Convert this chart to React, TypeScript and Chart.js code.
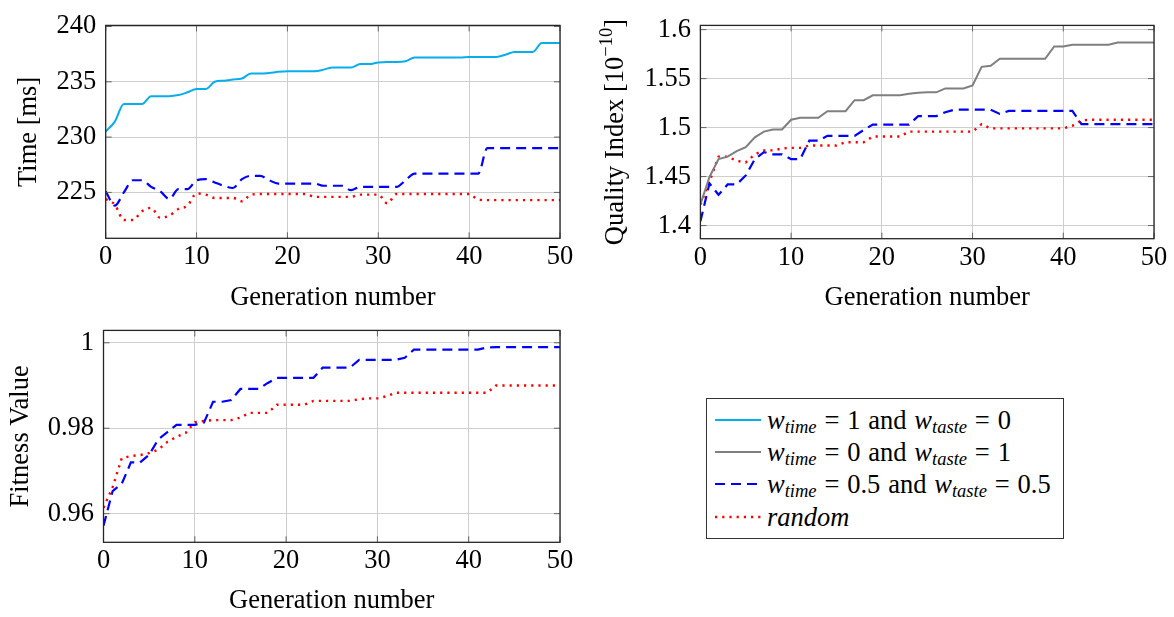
import React, { useEffect, useRef } from 'react';
import { Chart, registerables } from 'chart.js';

Chart.register(...registerables);

// ---------------- data ----------------
const GEN = [0, 1, 2, 3, 4, 5, 6, 7, 8, 9, 10, 11, 12, 13, 14, 15, 16, 17, 18, 19, 20, 21, 22, 23, 24, 25, 26, 27, 28, 29, 30, 31, 32, 33, 34, 35, 36, 37, 38, 39, 40, 41, 42, 43, 44, 45, 46, 47, 48, 49, 50];

// Time [ms]
const TIME_W1 = [230.5, 231.4, 233.0, 233.0, 233.0, 233.7, 233.7, 233.7, 233.8, 234.05, 234.35, 234.35, 235.0, 235.1, 235.2, 235.3, 235.75, 235.75, 235.8, 235.9, 235.95, 235.95, 235.95, 235.95, 236.1, 236.3, 236.3, 236.3, 236.6, 236.6, 236.75, 236.8, 236.8, 236.85, 237.2, 237.2, 237.2, 237.2, 237.2, 237.2, 237.25, 237.25, 237.25, 237.25, 237.45, 237.7, 237.7, 237.7, 238.5, 238.5, 238.5];
const TIME_W05 = [225.1, 223.8, 225.0, 226.1, 226.1, 225.5, 225.1, 224.4, 225.3, 225.3, 226.1, 226.2, 225.9, 225.6, 225.4, 226.2, 226.5, 226.5, 226.1, 225.8, 225.8, 225.8, 225.8, 225.8, 225.6, 225.6, 225.6, 225.2, 225.5, 225.5, 225.5, 225.5, 225.5, 226.1, 226.7, 226.7, 226.7, 226.7, 226.7, 226.7, 226.7, 226.7, 229.0, 229.0, 229.0, 229.0, 229.0, 229.0, 229.0, 229.0, 229.0];
const TIME_RAND = [224.4, 223.9, 222.5, 222.5, 223.3, 223.6, 222.7, 222.9, 223.5, 223.8, 224.9, 224.8, 224.5, 224.5, 224.5, 224.2, 224.8, 224.85, 224.85, 224.85, 224.85, 224.85, 224.85, 224.6, 224.6, 224.6, 224.6, 224.6, 224.8, 224.8, 224.8, 224.0, 224.85, 224.85, 224.85, 224.85, 224.85, 224.85, 224.85, 224.85, 224.85, 224.35, 224.3, 224.3, 224.3, 224.3, 224.3, 224.3, 224.3, 224.3, 224.3];

// Quality Index [10^-10]
const QUALITY_W0 = [1.4215, 1.4496, 1.4678, 1.4704, 1.476, 1.48, 1.49, 1.4959, 1.498, 1.498, 1.508, 1.51, 1.51, 1.51, 1.5167, 1.5167, 1.5167, 1.528, 1.528, 1.533, 1.533, 1.533, 1.533, 1.5345, 1.5355, 1.536, 1.536, 1.54, 1.54, 1.54, 1.543, 1.562, 1.563, 1.5702, 1.5702, 1.5702, 1.5702, 1.5702, 1.5702, 1.5828, 1.5828, 1.5845, 1.5845, 1.5845, 1.5845, 1.5845, 1.5868, 1.5868, 1.5868, 1.5868, 1.5868];
const QUALITY_W05 = [1.4043, 1.443, 1.4314, 1.442, 1.442, 1.4512, 1.4678, 1.475, 1.4727, 1.4727, 1.4678, 1.4678, 1.4866, 1.4866, 1.4916, 1.4916, 1.4916, 1.4916, 1.4975, 1.5031, 1.5031, 1.5031, 1.5031, 1.5031, 1.5117, 1.5117, 1.5117, 1.5157, 1.5183, 1.5183, 1.5183, 1.5183, 1.5183, 1.514, 1.517, 1.517, 1.517, 1.517, 1.517, 1.517, 1.517, 1.517, 1.5035, 1.5035, 1.5035, 1.5035, 1.5035, 1.5035, 1.5035, 1.5035, 1.5035];
const QUALITY_RAND = [1.4215, 1.4446, 1.4704, 1.4704, 1.466, 1.4645, 1.4727, 1.4767, 1.4767, 1.4787, 1.4793, 1.4793, 1.4817, 1.4817, 1.4817, 1.4817, 1.485, 1.485, 1.485, 1.4909, 1.4909, 1.4909, 1.4909, 1.4959, 1.4959, 1.4959, 1.4959, 1.4959, 1.4959, 1.4959, 1.4959, 1.5035, 1.4992, 1.4992, 1.4992, 1.4992, 1.4992, 1.4992, 1.4992, 1.4992, 1.4992, 1.5018, 1.5074, 1.508, 1.508, 1.508, 1.508, 1.508, 1.508, 1.508, 1.508];

// Fitness Value
const FITNESS_W05 = [0.9572, 0.9653, 0.967, 0.972, 0.972, 0.9738, 0.9774, 0.9791, 0.9808, 0.9808, 0.9808, 0.9813, 0.9862, 0.9862, 0.9866, 0.9892, 0.9892, 0.9892, 0.9906, 0.9918, 0.9918, 0.9918, 0.9918, 0.9918, 0.9942, 0.9942, 0.9942, 0.9942, 0.996, 0.996, 0.996, 0.996, 0.996, 0.9965, 0.9984, 0.9984, 0.9984, 0.9984, 0.9984, 0.9984, 0.9984, 0.9984, 0.9989, 0.999, 0.999, 0.999, 0.999, 0.999, 0.999, 0.999, 0.999];
const FITNESS_RAND = [0.9614, 0.9662, 0.973, 0.9735, 0.9737, 0.9742, 0.975, 0.9768, 0.978, 0.9789, 0.9814, 0.9817, 0.9819, 0.9819, 0.9819, 0.9825, 0.9836, 0.9836, 0.9836, 0.9855, 0.9855, 0.9855, 0.9855, 0.9864, 0.9864, 0.9864, 0.9864, 0.9864, 0.9868, 0.987, 0.987, 0.9875, 0.9883, 0.9883, 0.9883, 0.9883, 0.9883, 0.9883, 0.9883, 0.9883, 0.9883, 0.9883, 0.9883, 0.99, 0.99, 0.99, 0.99, 0.99, 0.99, 0.99, 0.99];

// ticks
const X_TICKS = [0, 10, 20, 30, 40, 50];
const TIME_TICKS = [225, 230, 235, 240];
const TIME_TICK_LABELS = ['225', '230', '235', '240'];
const QUALITY_TICKS = [1.4, 1.45, 1.5, 1.55, 1.6];
const QUALITY_TICK_LABELS = ['1.4', '1.45', '1.5', '1.55', '1.6'];
const FITNESS_TICKS = [0.96, 0.98, 1];
const FITNESS_TICK_LABELS = ['0.96', '0.98', '1'];

// legend
const LEGEND_TIME_WEIGHTS = ['1', '0', '0.5'];
const LEGEND_TASTE_WEIGHTS = ['0', '1', '0.5'];
const LEGEND_RANDOM = 'random';

// ---------------- styles ----------------
const FONT = '"Liberation Serif", "Times New Roman", serif';
const FS = 26.5;
const C_CYAN = '#08AEEC';
const C_GRAY = '#7f7f7f';
const C_BLUE = '#0000ff';
const C_RED = '#ff0000';
const GRID = 'rgb(206,206,206)';
const TICKC = 'rgb(100,100,100)';

const STYLE_W1 = { color: C_CYAN, dash: [] as number[], width: 2 };
const STYLE_W0 = { color: C_GRAY, dash: [] as number[], width: 2 };
const STYLE_W05 = { color: C_BLUE, dash: [10, 6], width: 2.2 };
const STYLE_RAND = { color: C_RED, dash: [2.2, 5], width: 2.4 };

type Part = { t: string; sup?: boolean };

type PanelProps = {
  box: { left: number; top: number; width: number; height: number };
  plot: { left: number; top: number; right: number; bottom: number };
  series: { values: number[]; style: { color: string; dash: number[]; width: number }; mono?: boolean }[];
  yMin: number;
  yMax: number;
  yTicks: number[];
  yTickLabels: string[];
  yTitle: Part[];
  yTitleX: number;
  xTitle: string;
  xTitleY: number;
};

function Panel(p: PanelProps) {
  const ref = useRef<HTMLCanvasElement | null>(null);
  useEffect(() => {
    if (!ref.current) return;
    const { width, height } = p.box;
    const framePlugin = {
      id: 'frameAndTitles',
      afterDatasetsDraw(chart: any) {
        const { ctx, chartArea: a, scales } = chart;
        ctx.save();
        // inner tick marks
        ctx.strokeStyle = TICKC;
        ctx.lineWidth = 1;
        ctx.beginPath();
        for (const t of scales.x.ticks) {
          const px = scales.x.getPixelForValue(t.value);
          ctx.moveTo(px, a.bottom);
          ctx.lineTo(px, a.bottom - 6);
          ctx.moveTo(px, a.top);
          ctx.lineTo(px, a.top + 6);
        }
        for (const t of scales.y.ticks) {
          const py = scales.y.getPixelForValue(t.value);
          ctx.moveTo(a.left, py);
          ctx.lineTo(a.left + 6, py);
          ctx.moveTo(a.right, py);
          ctx.lineTo(a.right - 6, py);
        }
        ctx.stroke();
        // frame
        ctx.strokeStyle = '#262626';
        ctx.lineWidth = 1.3;
        ctx.strokeRect(a.left, a.top, a.right - a.left, a.bottom - a.top);
        // x title
        ctx.fillStyle = '#000';
        ctx.font = `${FS}px ${FONT}`;
        ctx.textAlign = 'center';
        ctx.textBaseline = 'middle';
        ctx.fillText(p.xTitle, (a.left + a.right) / 2, p.xTitleY);
        // y title (rotated, with optional superscript)
        const mainFont = `${FS}px ${FONT}`;
        const supFont = `${FS * 0.7}px ${FONT}`;
        let total = 0;
        const widths = p.yTitle.map((part) => {
          ctx.font = part.sup ? supFont : mainFont;
          const w = ctx.measureText(part.t).width;
          total += w;
          return w;
        });
        ctx.translate(p.yTitleX, (a.top + a.bottom) / 2);
        ctx.rotate(-Math.PI / 2);
        ctx.textAlign = 'left';
        ctx.textBaseline = 'alphabetic';
        let x = -total / 2;
        const base = FS * 0.3375;
        p.yTitle.forEach((part, i) => {
          ctx.font = part.sup ? supFont : mainFont;
          ctx.fillText(part.t, x, part.sup ? base - FS * 0.4 : base);
          x += widths[i];
        });
        ctx.restore();
      },
    };

    const chart = new Chart(ref.current, {
      type: 'line',
      data: {
        datasets: p.series.map((s) => ({
          data: GEN.map((g, i) => ({ x: g, y: s.values[i] })),
          borderColor: s.style.color,
          borderWidth: s.style.width,
          borderDash: s.style.dash,
          borderCapStyle: 'butt',
          pointRadius: 0,
          fill: false,
          tension: s.mono ? 0.4 : 0,
          cubicInterpolationMode: s.mono ? 'monotone' : 'default',
        })),
      },
      options: {
        animation: false,
        responsive: false,
        events: [],
        layout: { padding: { left: 0, top: p.plot.top, right: width - p.plot.right, bottom: 0 } },
        plugins: { legend: { display: false }, tooltip: { enabled: false } },
        scales: {
          x: {
            type: 'linear',
            min: 0,
            max: 50,
            afterBuildTicks: (s: any) => {
              s.ticks = X_TICKS.map((v) => ({ value: v }));
            },
            afterFit: (s: any) => {
              s.height = height - p.plot.bottom;
            },
            grid: { color: GRID, lineWidth: 1, drawTicks: false },
            border: { display: false },
            ticks: {
              color: '#000',
              font: { family: FONT, size: FS, lineHeight: 1.2 },
              padding: 3,
              maxRotation: 0,
              autoSkip: false,
              callback: (v: any) => String(v),
            },
          },
          y: {
            type: 'linear',
            min: p.yMin,
            max: p.yMax,
            afterBuildTicks: (s: any) => {
              s.ticks = p.yTicks.map((v) => ({ value: v }));
            },
            afterFit: (s: any) => {
              s.width = p.plot.left;
            },
            grid: { color: GRID, lineWidth: 1, drawTicks: false },
            border: { display: false },
            ticks: {
              color: '#000',
              font: { family: FONT, size: FS, lineHeight: 1.2 },
              padding: 9.5,
              autoSkip: false,
              callback: (v: any) => {
                const i = p.yTicks.indexOf(v);
                return i >= 0 ? p.yTickLabels[i] : String(v);
              },
            },
          },
        },
      },
      plugins: [framePlugin],
    } as any);
    return () => chart.destroy();
  }, []);
  return (
    <div style={{ position: 'absolute', left: p.box.left, top: p.box.top, width: p.box.width, height: p.box.height }}>
      <canvas ref={ref} width={p.box.width} height={p.box.height} style={{ display: 'block' }} />
    </div>
  );
}

function Sub({ children }: { children: string }) {
  return (
    <span style={{ fontSize: FS * 0.7, fontStyle: 'italic', position: 'relative', top: 4, wordSpacing: 0 }}>{children}</span>
  );
}

function Sample({ style }: { style: { color: string; dash: number[]; width: number } }) {
  return (
    <svg width={46} height={10} style={{ position: 'absolute', left: 8, top: 11 }}>
      <line x1={0} y1={5} x2={46} y2={5} stroke={style.color} strokeWidth={style.width} strokeDasharray={style.dash.length ? style.dash.join(' ') : undefined} />
    </svg>
  );
}

function Legend() {
  const rowStyle = (i: number): React.CSSProperties => ({
    position: 'absolute',
    left: 0,
    top: 5 + i * 32.2,
    height: 32.2,
    width: '100%',
  });
  const textStyle: React.CSSProperties = {
    position: 'absolute',
    left: 60,
    top: 0,
    lineHeight: '32.2px',
    whiteSpace: 'nowrap',
    wordSpacing: 1.2,
  };
  const styles = [STYLE_W1, STYLE_W0, STYLE_W05];
  return (
    <div
      style={{
        position: 'absolute',
        left: 706,
        top: 398,
        width: 358,
        height: 141,
        border: '1px solid #333',
        boxSizing: 'border-box',
        fontFamily: FONT,
        fontSize: FS,
        color: '#000',
        background: '#fff',
      }}
    >
      {LEGEND_TIME_WEIGHTS.map((wt, i) => (
        <div key={i} style={rowStyle(i)}>
          <Sample style={styles[i]} />
          <div style={textStyle}>
            <i>w</i>
            <Sub>time</Sub>
            {` = ${wt} and `}
            <i>w</i>
            <Sub>taste</Sub>
            {` = ${LEGEND_TASTE_WEIGHTS[i]}`}
          </div>
        </div>
      ))}
      <div style={rowStyle(3)}>
        <Sample style={STYLE_RAND} />
        <div style={textStyle}>
          <i>{LEGEND_RANDOM}</i>
        </div>
      </div>
    </div>
  );
}

export default function App() {
  return (
    <div style={{ position: 'absolute', left: 0, top: 0, width: 1174, height: 617, background: '#fff', overflow: 'hidden' }}>
      <Panel
        box={{ left: 0, top: 0, width: 590, height: 320 }}
        plot={{ left: 105.7, top: 20.5, right: 560, bottom: 238.3 }}
        series={[
          { values: TIME_W1, style: STYLE_W1, mono: true },
          { values: TIME_W05, style: STYLE_W05, mono: true },
          { values: TIME_RAND, style: STYLE_RAND, mono: true },
        ]}
        yMin={220.85}
        yMax={240.1}
        yTicks={TIME_TICKS}
        yTickLabels={TIME_TICK_LABELS}
        yTitle={[{ t: 'Time [ms]' }]}
        yTitleX={26.8}
        xTitle="Generation number"
        xTitleY={298}
      />
      <Panel
        box={{ left: 590, top: 0, width: 584, height: 320 }}
        plot={{ left: 110.4, top: 19, right: 564, bottom: 238.7 }}
        series={[
          { values: QUALITY_W0, style: STYLE_W0 },
          { values: QUALITY_W05, style: STYLE_W05 },
          { values: QUALITY_RAND, style: STYLE_RAND },
        ]}
        yMin={1.3866}
        yMax={1.6043}
        yTicks={QUALITY_TICKS}
        yTickLabels={QUALITY_TICK_LABELS}
        yTitle={[{ t: 'Quality Index [10' }, { t: '\u221210', sup: true }, { t: ']' }]}
        yTitleX={24}
        xTitle="Generation number"
        xTitleY={298}
      />
      <Panel
        box={{ left: 0, top: 305, width: 590, height: 312 }}
        plot={{ left: 103.5, top: 17.7, right: 560, bottom: 237.3 }}
        series={[
          { values: FITNESS_W05, style: STYLE_W05 },
          { values: FITNESS_RAND, style: STYLE_RAND },
        ]}
        yMin={0.9533}
        yMax={1.0029}
        yTicks={FITNESS_TICKS}
        yTickLabels={FITNESS_TICK_LABELS}
        yTitle={[{ t: 'Fitness Value' }]}
        yTitleX={19.5}
        xTitle="Generation number"
        xTitleY={296}
      />
      <Legend />
    </div>
  );
}
